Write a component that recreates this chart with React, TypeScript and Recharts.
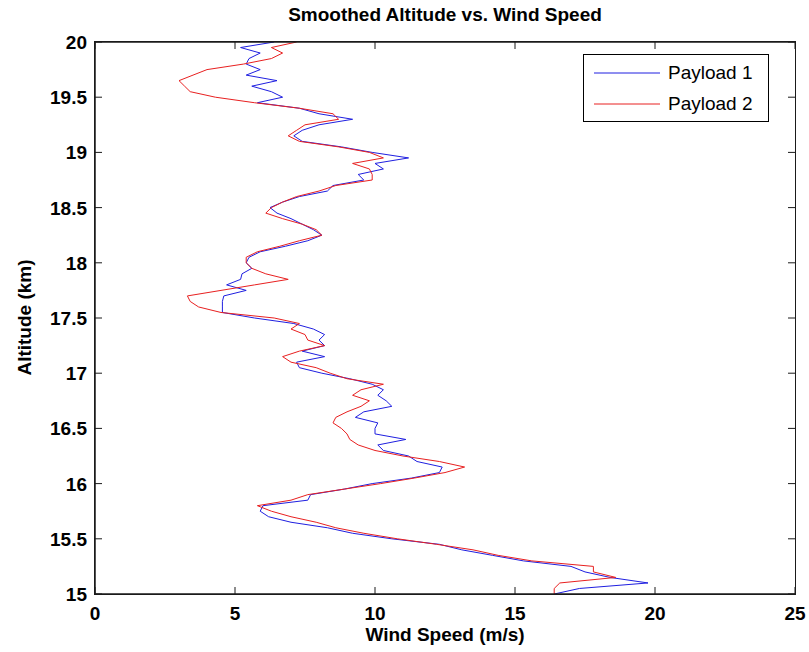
import { Legend, Line, LineChart, XAxis, YAxis } from "recharts";

const FONT = '"Liberation Sans", Arial, Helvetica, sans-serif';
const AXIS_COLOR = "#1a1a1a";
const AXIS_WIDTH = 1.5;
const PLOT_WIDTH = 700;
const PLOT_HEIGHT = 552;

// altitude (km), sampled top to bottom
const altitudes = [
	20, 19.95, 19.9, 19.85, 19.8, 19.75, 19.7, 19.65, 19.6, 19.55,
	19.5, 19.45, 19.4, 19.35, 19.3, 19.25, 19.2, 19.15, 19.1, 19.05,
	19, 18.95, 18.9, 18.85, 18.8, 18.75, 18.7, 18.65, 18.6, 18.55,
	18.5, 18.45, 18.4, 18.35, 18.3, 18.25, 18.2, 18.15, 18.1, 18.05,
	18, 17.95, 17.9, 17.85, 17.8, 17.75, 17.7, 17.65, 17.6, 17.55,
	17.5, 17.45, 17.4, 17.35, 17.3, 17.25, 17.2, 17.15, 17.1, 17.05,
	17, 16.95, 16.9, 16.85, 16.8, 16.75, 16.7, 16.65, 16.6, 16.55,
	16.5, 16.45, 16.4, 16.35, 16.3, 16.25, 16.2, 16.15, 16.1, 16.05,
	16, 15.95, 15.9, 15.85, 15.8, 15.75, 15.7, 15.65, 15.6, 15.55,
	15.5, 15.45, 15.4, 15.35, 15.3, 15.25, 15.2, 15.15, 15.1, 15.05,
	15,
];

// wind speed (m/s)
const payload1 = [
	6.4, 5.2, 5.9, 5.5, 5.4, 5.9, 5.4, 6.5, 5.6, 6.3,
	6.7, 5.8, 7.3, 8.0, 9.2, 8.0, 7.4, 7.1, 7.4, 8.8,
	9.9, 11.2, 10.0, 10.3, 9.4, 9.6, 8.5, 8.3, 7.3, 6.7,
	6.25, 6.5, 7.0, 7.4, 7.8, 8.1, 7.6, 6.8, 5.9, 5.5,
	5.4, 5.6, 5.25, 5.2, 4.7, 5.4, 4.6, 4.55, 4.55, 4.55,
	5.7, 7.1, 7.8, 8.2, 8.0, 8.2, 7.4, 8.2, 7.2, 7.3,
	8.1, 9.1, 9.9, 10.3, 10.1, 10.4, 10.6, 9.6, 9.3, 10.1,
	10.0, 10.0, 11.1, 10.1, 10.3, 11.2, 11.5, 12.4, 12.3, 11.3,
	9.9, 8.9, 7.7, 7.6, 6.0, 5.9, 6.2, 7.0, 8.3, 9.2,
	10.6, 12.3, 13.1, 14.2, 15.3, 17.0, 17.5, 18.4, 19.75, 17.3,
	16.4,
];

const payload2 = [
	7.2, 6.3, 6.7, 6.3, 5.3, 4.0, 3.5, 3.0, 3.2, 3.4,
	4.3, 5.7, 7.3, 8.5, 8.7, 7.5, 7.2, 6.9, 7.3, 8.7,
	9.8, 10.3, 9.2, 9.8, 9.9, 9.9, 8.6, 8.0, 7.2, 6.7,
	6.3, 6.1, 6.7, 7.4, 7.9, 8.1, 7.3, 6.6, 5.8, 5.4,
	5.4, 5.6, 6.1, 6.9, 5.7, 4.5, 3.3, 3.4, 3.7, 4.5,
	6.4, 7.3, 7.0, 7.5, 7.6, 8.2, 7.3, 6.7, 7.0, 7.9,
	8.4, 9.0, 10.3, 9.5, 9.2, 9.8, 9.5, 9.0, 8.6, 8.5,
	8.8, 9.0, 9.1, 9.4, 10.0, 11.0, 12.3, 13.2, 12.5, 11.4,
	10.2, 8.9, 7.6, 7.0, 5.8, 6.3, 7.0, 7.9, 8.6, 9.6,
	10.8, 12.2, 13.5, 14.4, 15.6, 17.8, 17.8, 18.6, 16.6, 16.4,
	16.4,
];

const speedTicks = [0, 5, 10, 15, 20, 25];
const altitudeTicks = [15, 15.5, 16, 16.5, 17, 17.5, 18, 18.5, 19, 19.5, 20];

const data = altitudes.map((alt, i) => ({
	alt,
	p1: payload1[i],
	p2: payload2[i],
}));

const labelStyle = {
	fontFamily: FONT,
	fontWeight: "bold" as const,
	fontSize: 19,
	color: "#000",
	position: "absolute" as const,
	lineHeight: "19px",
	whiteSpace: "nowrap" as const,
};

const BottomTick = (props: any) => {
	const x = Number(props.x);
	const y = Number(props.y);
	return (
		<g>
			<line x1={x} y1={y} x2={x} y2={y - 7} stroke={AXIS_COLOR} />
			<text
				x={x}
				y={y + 26}
				textAnchor="middle"
				fontFamily={FONT}
				fontWeight="bold"
				fontSize={19}
				fill="#000"
			>
				{props.payload.value}
			</text>
		</g>
	);
};

// left tick + label, and the matching inward tick on the right edge of the box
const LeftTick = (props: any) => {
	const x = Number(props.x);
	const y = Number(props.y);
	return (
		<g>
			<line x1={x} y1={y} x2={x + 7} y2={y} stroke={AXIS_COLOR} />
			<line
				x1={x + PLOT_WIDTH}
				y1={y}
				x2={x + PLOT_WIDTH - 7}
				y2={y}
				stroke={AXIS_COLOR}
			/>
			<text
				x={x - 8}
				y={y + 7}
				textAnchor="end"
				fontFamily={FONT}
				fontWeight="bold"
				fontSize={19}
				fill="#000"
			>
				{props.payload.value}
			</text>
		</g>
	);
};

const TopTick = (props: any) => {
	const x = Number(props.x);
	const y = Number(props.y);
	return <line x1={x} y1={y} x2={x} y2={y + 7} stroke={AXIS_COLOR} />;
};

const LegendBox = ({ payload }: any) => (
	<div
		style={{
			border: "1px solid #000",
			background: "#fff",
			width: 186,
			height: 68,
			boxSizing: "border-box",
			paddingTop: 2,
		}}
	>
		{(payload || []).map((entry: any) => (
			<div
				key={entry.value}
				style={{ display: "flex", alignItems: "center", height: 31 }}
			>
				<svg width={84} height={10} style={{ flex: "none" }}>
					<line x1={10} y1={5} x2={76} y2={5} stroke={entry.color} />
				</svg>
				<span style={{ fontFamily: FONT, fontSize: 19, color: "#000" }}>
					{entry.value}
				</span>
			</div>
		))}
	</div>
);

export default function App() {
	return (
		<div
			style={{
				position: "absolute",
				left: 0,
				top: 0,
				width: 809,
				height: 652,
				background: "#fff",
			}}
		>
			<div style={{ ...labelStyle, left: 95, width: 700, top: 5, textAlign: "center" }}>
				Smoothed Altitude vs. Wind Speed
			</div>
			<div style={{ ...labelStyle, left: 95, width: 700, top: 625, textAlign: "center" }}>
				Wind Speed (m/s)
			</div>
			<div
				style={{
					...labelStyle,
					left: 24 - 100,
					width: 200,
					top: 318 - 10,
					textAlign: "center",
					transform: "rotate(-90deg)",
				}}
			>
				Altitude (km)
			</div>
			<LineChart
				width={809}
				height={652}
				data={data}
				layout="vertical"
				margin={{ top: 41, right: 14, bottom: 0, left: 0 }}
			>
				<XAxis
					type="number"
					dataKey="p1"
					domain={[0, 25]}
					ticks={speedTicks}
					interval={0}
					height={58}
					tickSize={0}
					tickMargin={0}
					tickLine={false}
					tick={<BottomTick />}
					axisLine={{ stroke: AXIS_COLOR, strokeWidth: AXIS_WIDTH }}
					allowDataOverflow
				/>
				<XAxis
					xAxisId="top"
					orientation="top"
					type="number"
					domain={[0, 25]}
					ticks={speedTicks}
					interval={0}
					height={1}
					tickSize={0}
					tickMargin={0}
					tickLine={false}
					tick={<TopTick />}
					axisLine={{ stroke: AXIS_COLOR, strokeWidth: AXIS_WIDTH }}
					allowDataOverflow
				/>
				<YAxis
					type="number"
					dataKey="alt"
					domain={[15, 20]}
					ticks={altitudeTicks}
					interval={0}
					width={95}
					reversed
					tickSize={0}
					tickMargin={0}
					tickLine={false}
					tick={<LeftTick />}
					axisLine={{ stroke: AXIS_COLOR, strokeWidth: AXIS_WIDTH }}
					allowDataOverflow
				/>
				<Legend
					layout="horizontal"
					verticalAlign="middle"
					align="center"
					content={<LegendBox />}
					wrapperStyle={{ top: 54, left: 583, width: 186, height: 68 }}
				/>
				<Line
					dataKey="p1"
					name="Payload 1"
					stroke="#1f1fe0"
					strokeWidth={1}
					dot={false}
					activeDot={false}
					type="linear"
					isAnimationActive={false}
				/>
				<Line
					dataKey="p2"
					name="Payload 2"
					stroke="#e82020"
					strokeWidth={1}
					dot={false}
					activeDot={false}
					type="linear"
					isAnimationActive={false}
				/>
			</LineChart>
			{/* axes box, closes the plot on the right */}
			<div
				style={{
					position: "absolute",
					left: 94,
					top: 41,
					width: PLOT_WIDTH + 2,
					height: PLOT_HEIGHT + 2,
					border: `${AXIS_WIDTH}px solid ${AXIS_COLOR}`,
					boxSizing: "border-box",
					pointerEvents: "none",
				}}
			/>
		</div>
	);
}
